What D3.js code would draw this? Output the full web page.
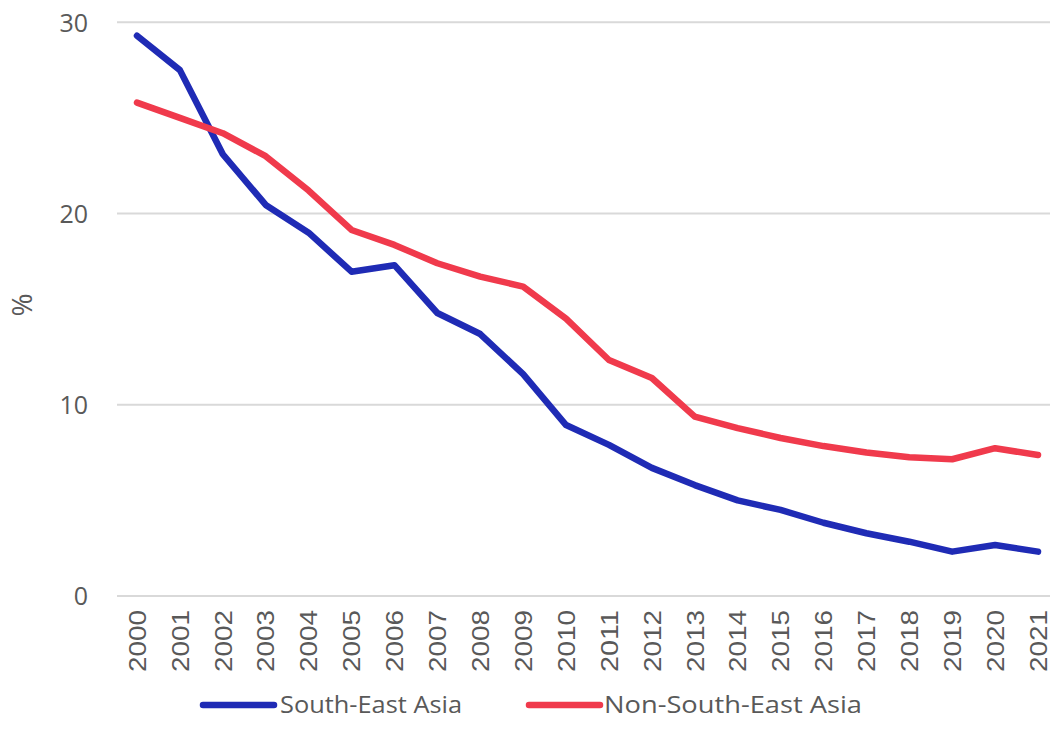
<!DOCTYPE html>
<html>
<head>
<meta charset="utf-8">
<script src="https://cdn.jsdelivr.net/npm/d3@7"></script>
<style>
  body { margin: 0; background: #fff; }
  svg { display: block; font-family: "Open Sans", "Noto Sans", sans-serif; }
</style>
</head>
<body>
<svg id="chart" width="1055" height="746"></svg>
<script>
const years = ["2000","2001","2002","2003","2004","2005","2006","2007","2008","2009","2010",
               "2011","2012","2013","2014","2015","2016","2017","2018","2019","2020","2021"];
const southEastAsia = [29.3, 27.5, 23.1, 20.45, 19.0, 16.96, 17.3, 14.8, 13.7, 11.6, 8.94,
                       7.9, 6.7, 5.8, 5.0, 4.5, 3.83, 3.28, 2.84, 2.32, 2.67, 2.32];
const nonSouthEastAsia = [25.8, 25.0, 24.2, 23.0, 21.2, 19.14, 18.36, 17.4, 16.7, 16.18, 14.5,
                          12.34, 11.4, 9.38, 8.78, 8.26, 7.84, 7.5, 7.26, 7.15, 7.73, 7.37];
const yTicks = [0, 10, 20, 30];
const seriesNames = ["South-East Asia", "Non-South-East Asia"];
const seriesColors = ["#1f2bb5", "#f03a4c"];

const svg = d3.select("#chart");
const plot = { left: 117, right: 1050, top: 22.3, bottom: 596 };

const x = d3.scalePoint().domain(years).range([137, 1038]);
const y = d3.scaleLinear().domain([0, 30]).range([plot.bottom, plot.top]);

// gridlines
svg.append("g").selectAll("line").data(yTicks).join("line")
  .attr("x1", plot.left).attr("x2", plot.right)
  .attr("y1", d => y(d)).attr("y2", d => y(d))
  .attr("stroke", "#d9d9d9").attr("stroke-width", 2);

// y axis labels
const yAxis = d3.axisLeft(y).tickValues(yTicks).tickSize(0).tickPadding(0);
const gy = svg.append("g").attr("transform", "translate(88,0)").call(yAxis);
gy.select(".domain").remove();
gy.selectAll("text").attr("font-size", 25).attr("fill", "#595959")
  .attr("font-family", "'Open Sans', sans-serif").attr("dy", "0.35em");

// x axis labels (rotated)
const xAxis = d3.axisBottom(x).tickSize(0).tickPadding(0);
const gx = svg.append("g").attr("transform", `translate(0,${plot.bottom})`).call(xAxis);
gx.select(".domain").remove();
gx.selectAll("text")
  .attr("font-size", 23).attr("fill", "#595959")
  .attr("text-anchor", "end")
  .attr("transform", "rotate(-90)")
  .attr("x", -14).attr("y", 0).attr("dy", "0.36em")
  .attr("textLength", 62).attr("lengthAdjust", "spacingAndGlyphs");

// y title
svg.append("text").attr("transform", "translate(22,305) rotate(-90)")
  .attr("text-anchor", "middle").attr("dy", "0.35em")
  .attr("font-size", 28).attr("fill", "#595959").text("%");

// lines
const line = d3.line().x((d, i) => x(years[i])).y(d => y(d));
[southEastAsia, nonSouthEastAsia].forEach((s, k) => {
  svg.append("path").datum(s)
    .attr("d", line)
    .attr("fill", "none")
    .attr("stroke", seriesColors[k])
    .attr("stroke-width", 6.5)
    .attr("stroke-linejoin", "round")
    .attr("stroke-linecap", "round");
});

// legend
const legendItems = [
  { x1: 203, x2: 274, tx: 280, len: 182 },
  { x1: 529, x2: 600, tx: 604, len: 258 }
];
const ly = 705;
legendItems.forEach((p, k) => {
  svg.append("line").attr("x1", p.x1).attr("x2", p.x2).attr("y1", ly).attr("y2", ly)
    .attr("stroke", seriesColors[k]).attr("stroke-width", 6.5).attr("stroke-linecap", "round");
  svg.append("text").attr("x", p.tx).attr("y", ly).attr("dy", "0.35em")
    .attr("font-size", 24).attr("fill", "#595959")
    .attr("textLength", p.len).attr("lengthAdjust", "spacingAndGlyphs")
    .text(seriesNames[k]);
});
</script>
</body>
</html>
